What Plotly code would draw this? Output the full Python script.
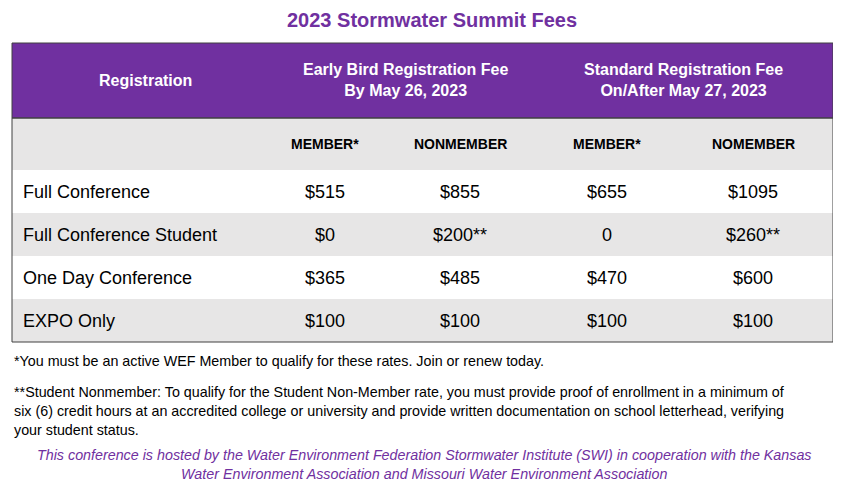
import plotly.graph_objects as go

title = "2023 Stormwater Summit Fees"
group_headers = ["Registration", "Early Bird Registration Fee<br>By May 26, 2023",
                 "Standard Registration Fee<br>On/After May 27, 2023"]
sub_headers = ["", "MEMBER*", "NONMEMBER", "MEMBER*", "NOMEMBER"]
categories = ["Full Conference", "Full Conference Student", "One Day Conference", "EXPO Only"]
early_member = ["$515", "$0", "$365", "$100"]
early_nonmember = ["$855", "$200**", "$485", "$100"]
std_member = ["$655", "0", "$470", "$100"]
std_nonmember = ["$1095", "$260**", "$600", "$100"]
notes = [
    "*You must be an active WEF Member to qualify for these rates. Join or renew today.",
    "**Student Nonmember: To qualify for the Student Non-Member rate, you must provide proof of enrollment in a minimum of",
    "six (6) credit hours at an accredited college or university and provide written documentation on school letterhead, verifying",
    "your student status.",
]
credit = ("This conference is hosted by the Water Environment Federation Stormwater Institute (SWI) in cooperation with the Kansas<br>"
          "Water Environment Association and Missouri Water Environment Association")

PURPLE = "#7030A0"
GREY = "#E7E6E6"
FONT = "Liberation Sans, Arial"
col_edges = [12, 270, 392, 540, 685, 833]
header_top, header_bot = 43, 118
row_edges = [118, 170, 213, 256, 299, 342]

fig = go.Figure()
shapes, ann = [], []
shapes.append(dict(type="rect", x0=col_edges[0], x1=col_edges[-1], y0=header_top, y1=header_bot,
                   fillcolor=PURPLE, line_width=0, layer="below"))
for i in range(5):
    fill = GREY if i % 2 == 0 else "white"
    shapes.append(dict(type="rect", x0=col_edges[0], x1=col_edges[-1], y0=row_edges[i], y1=row_edges[i + 1],
                       fillcolor=fill, line_width=0, layer="below"))
shapes.append(dict(type="rect", x0=col_edges[0], x1=col_edges[-1], y0=header_top, y1=row_edges[-1],
                   line=dict(color="#404040", width=1)))
shapes.append(dict(type="line", x0=col_edges[0], x1=col_edges[-1], y0=header_bot, y1=header_bot,
                   line=dict(color="#404040", width=1.5)))

ann.append(dict(x=432, y=20, text="<b>" + title + "</b>", font=dict(size=20, color=PURPLE)))
hx = [(col_edges[0] + col_edges[1]) / 2 + 4, (col_edges[1] + col_edges[3]) / 2, (col_edges[3] + col_edges[5]) / 2 - 3]
for x, t in zip(hx, group_headers):
    ann.append(dict(x=x, y=80, text="<b>" + t + "</b>", font=dict(size=16, color="white")))
for i, t in enumerate(sub_headers):
    if t:
        ann.append(dict(x=(col_edges[i] + col_edges[i + 1]) / 2 - 6, y=144, text="<b>" + t + "</b>",
                        font=dict(size=14, color="black")))
cols = [early_member, early_nonmember, std_member, std_nonmember]
for r, cat in enumerate(categories):
    y = (row_edges[r + 1] + row_edges[r + 2]) / 2
    ann.append(dict(x=21, y=y, text=cat, xanchor="left", font=dict(size=18, color="black")))
    for c, vals in enumerate(cols):
        ann.append(dict(x=(col_edges[c + 1] + col_edges[c + 2]) / 2 - 6, y=y, text=vals[r],
                        font=dict(size=18, color="black")))
for y, t in zip([361, 392, 411, 430], notes):
    ann.append(dict(x=12, y=y, text=t, xanchor="left", font=dict(size=14.3, color="black")))
ann.append(dict(x=424, y=464, text="<i>" + credit + "</i>", font=dict(size=14.3, color=PURPLE)))
for a in ann:
    a.update(xref="x", yref="y", showarrow=False, font=dict(family=FONT, **a["font"]))

fig.add_trace(go.Scatter(x=[8, 841], y=[8, 485], mode="markers", marker=dict(opacity=0), hoverinfo="skip"))
fig.update_layout(width=833, height=477, margin=dict(l=0, r=0, t=0, b=0),
                  plot_bgcolor="white", paper_bgcolor="white", showlegend=False,
                  shapes=shapes, annotations=ann)
fig.update_xaxes(range=[8, 841], visible=False)
fig.update_yaxes(range=[485, 8], visible=False)
fig.write_html("out.html")
